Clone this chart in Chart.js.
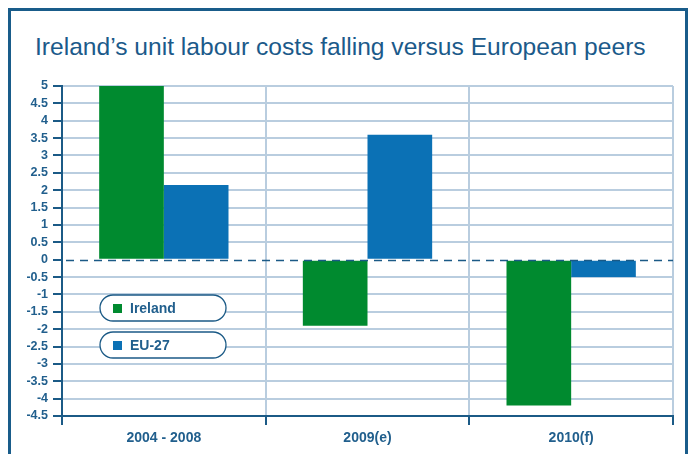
<!DOCTYPE html>
<html>
<head>
<meta charset="utf-8">
<script src="https://cdn.jsdelivr.net/npm/chart.js@4.4.0/dist/chart.umd.min.js"></script>
<style>
    html, body { margin: 0; padding: 0; background: #fff; overflow: hidden; }
    #wrap { position: relative; width: 693px; height: 454px; }
    #frame {
        position: absolute; left: 8px; top: 8px; width: 680px; height: 520px;
        border: 3px solid #195c8a; box-sizing: border-box;
    }
    #title {
        position: absolute; left: 35px; top: 32px; margin: 0;
        font: normal 24.6px "Liberation Sans", Arial, sans-serif;
        color: #1b5a8a; white-space: nowrap; line-height: 30px;
    }
    canvas { position: absolute; left: 0; top: 0; }
</style>
</head>
<body>
<div id="wrap">
    <div id="frame"></div>
    <h1 id="title">Ireland’s unit labour costs falling versus European peers</h1>
    <canvas id="chart" width="693" height="454"></canvas>
</div>
<script>
    const categories = ['2004 - 2008', '2009(e)', '2010(f)'];
    const irelandValues = [5.0, -1.9, -4.2];
    const eu27Values = [2.15, 3.6, -0.5];
    const yTicks = [5, 4.5, 4, 3.5, 3, 2.5, 2, 1.5, 1, 0.5, 0, -0.5, -1, -1.5, -2, -2.5, -3, -3.5, -4, -4.5];

    const DARK = '#1b5a86';
    const TEXT = '#215f8d';
    const GRID = '#b9cddf';

    // dashed line at zero
    const zeroLine = {
        id: 'zeroLine',
        afterDatasetsDraw(chart) {
            const { ctx, chartArea, scales } = chart;
            const y = Math.round(scales.y.getPixelForValue(0)) + 0.5;
            ctx.save();
            ctx.strokeStyle = DARK;
            ctx.lineWidth = 1.5;
            ctx.setLineDash([8, 6]);
            ctx.beginPath();
            ctx.moveTo(chartArea.left + 4, y);
            ctx.lineTo(chartArea.right, y);
            ctx.stroke();
            ctx.restore();
        }
    };

    // rounded pill legend inside the plot
    const pillLegend = {
        id: 'pillLegend',
        afterDatasetsDraw(chart) {
            const { ctx } = chart;
            const x = 100, w = 126, h = 26;
            const tops = [295, 332];
            chart.data.datasets.forEach((ds, i) => {
                const top = tops[i];
                ctx.save();
                ctx.beginPath();
                ctx.roundRect(x, top, w, h, h / 2);
                ctx.fillStyle = '#fff';
                ctx.fill();
                ctx.lineWidth = 1.3;
                ctx.strokeStyle = DARK;
                ctx.stroke();
                ctx.fillStyle = ds.backgroundColor;
                ctx.fillRect(x + 13, top + 9, 9, 9);
                ctx.fillStyle = TEXT;
                ctx.font = 'bold 14px "Liberation Sans", Arial, sans-serif';
                ctx.textBaseline = 'middle';
                ctx.fillText(ds.label, x + 30, top + h / 2 + 1);
                ctx.restore();
            });
        }
    };

    new Chart(document.getElementById('chart'), {
        type: 'bar',
        data: {
            labels: categories,
            datasets: [{
                label: 'Ireland',
                data: irelandValues,
                backgroundColor: '#008a2f'
            }, {
                label: 'EU-27',
                data: eu27Values,
                backgroundColor: '#0b71b5'
            }]
        },
        options: {
            responsive: false,
            animation: false,
            layout: { padding: { left: 14, right: 20, top: 86, bottom: 0 } },
            datasets: {
                bar: { categoryPercentage: 0.635, barPercentage: 1.0 }
            },
            plugins: {
                legend: { display: false },
                tooltip: { enabled: false }
            },
            scales: {
                x: {
                    grid: {
                        offset: true,
                        color: GRID,
                        lineWidth: 2,
                        tickColor: DARK,
                        tickLength: 9,
                        tickWidth: 2
                    },
                    border: { color: DARK, width: 2 },
                    ticks: {
                        color: TEXT,
                        padding: 5,
                        font: { family: '"Liberation Sans", Arial, sans-serif', size: 14, weight: 'bold' }
                    },
                    afterFit(scale) { scale.height = 38; }
                },
                y: {
                    min: -4.5,
                    max: 5,
                    afterBuildTicks(scale) {
                        scale.ticks = yTicks.map(v => ({ value: v }));
                    },
                    grid: {
                        color: ctx => (ctx.tick && ctx.tick.value === 0) ? 'rgba(0,0,0,0)' : GRID,
                        lineWidth: 2,
                        tickColor: DARK,
                        tickLength: 9,
                        tickWidth: 2
                    },
                    border: { color: DARK, width: 2 },
                    ticks: {
                        color: TEXT,
                        padding: 5,
                        autoSkip: false,
                        font: { family: '"Liberation Sans", Arial, sans-serif', size: 12.5, weight: 'bold' },
                        callback: v => String(v)
                    },
                    afterFit(scale) { scale.width = 48; }
                }
            }
        },
        plugins: [zeroLine, pillLegend]
    });
</script>
</body>
</html>
